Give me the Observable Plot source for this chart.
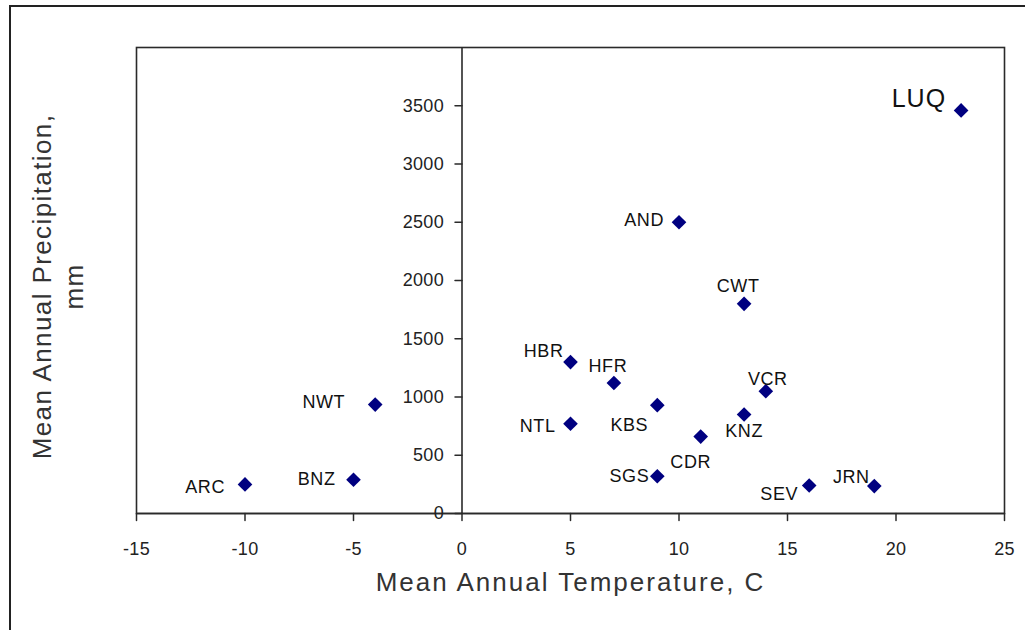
<!DOCTYPE html>
<html>
<head>
<meta charset="utf-8">
<script src="https://cdn.jsdelivr.net/npm/d3@7"></script>
<script src="https://cdn.jsdelivr.net/npm/@observablehq/plot@0.6"></script>
<style>
  html, body { margin: 0; padding: 0; background: #fff; }
  #wrap { position: relative; width: 1025px; height: 630px; overflow: hidden; }
  #outer { position: absolute; left: 9px; top: 5px; width: 1030px; height: 640px; border-left: 2px solid #222; border-top: 2px solid #222; box-sizing: border-box; }
  #chart { position: absolute; left: 0; top: 0; }
</style>
</head>
<body>
<div id="wrap"><div id="outer"></div><div id="chart"></div></div>
<script>
// ---- data ----
const sites  = ["ARC","BNZ","NWT","LUQ","AND","CWT","HBR","HFR","NTL","KBS","VCR","KNZ","CDR","SGS","SEV","JRN"];
const temperature   = [-10, -5, -4, 23, 10, 13, 5, 7, 5, 9, 14, 13, 11, 9, 16, 19];
const precipitation = [250, 290, 935, 3460, 2500, 1800, 1300, 1120, 770, 930, 1050, 850, 660, 320, 240, 235];
const xTicks = [-15, -10, -5, 0, 5, 10, 15, 20, 25];
const yTicks = [0, 500, 1000, 1500, 2000, 2500, 3000, 3500];
const xTitle = "Mean Annual Temperature, C";
const yTitle = "Mean Annual Precipitation,\nmm";

// label placement (layout only)
const labelPlacement = {
  ARC: {anchor: "end", dx: -20, dy: 3},
  BNZ: {anchor: "end", dx: -18, dy: 0},
  NWT: {anchor: "end", dx: -30, dy: -2},
  LUQ: {anchor: "end", dx: -15, dy: -11},
  AND: {anchor: "end", dx: -15, dy: -2},
  CWT: {anchor: "middle", dx: -6, dy: -18},
  HBR: {anchor: "end", dx: -7, dy: -11},
  HFR: {anchor: "middle", dx: -6, dy: -17},
  NTL: {anchor: "end", dx: -15, dy: 2},
  KBS: {anchor: "middle", dx: -28, dy: 20},
  VCR: {anchor: "middle", dx: 2, dy: -12},
  KNZ: {anchor: "middle", dx: 0, dy: 17},
  CDR: {anchor: "middle", dx: -10, dy: 26},
  SGS: {anchor: "end", dx: -8, dy: 0},
  SEV: {anchor: "middle", dx: -30, dy: 9},
  JRN: {anchor: "middle", dx: -23, dy: -9}
};

const table = sites.map((s, i) => ({site: s, t: temperature[i], p: precipitation[i]}));
const big = table.filter(d => d.site === "LUQ");
const small = table.filter(d => d.site !== "LUQ");

const tickShape = {draw(ctx, l) { ctx.moveTo(0, 0); ctx.lineTo(0, -l); }};
const font = "'Liberation Sans', Arial, sans-serif";

function spaced(ls) {
  return function(index, scales, values, dims, context, next) {
    const g = next(index, scales, values, dims, context);
    d3.select(g).selectAll("text").style("letter-spacing", ls + "px");
    return g;
  };
}

function labelMarks(data, size, ls) {
  return ["start", "middle", "end"].map(a => {
    const d = data.filter(r => labelPlacement[r.site].anchor === a);
    return Plot.text(d, {
      x: "t", y: "p", text: "site", textAnchor: a,
      fontSize: size, fill: "#111",
      render(index, scales, values, dims, context, next) {
        const g = next(index, scales, values, dims, context);
        d3.select(g).selectAll("text").each(function(_, j) {
          const r = d[index[j]];
          const p = labelPlacement[r.site];
          const el = d3.select(this);
          const tr = el.attr("transform") || "";
          el.attr("transform", tr + ` translate(${p.dx},${p.dy})`).style("letter-spacing", ls + "px");
        });
        return g;
      }
    });
  });
}

const chart = Plot.plot({
  width: 1025,
  height: 630,
  marginLeft: 136,
  marginRight: 21,
  marginTop: 47,
  marginBottom: 117,
  style: {fontFamily: font, background: "transparent", overflow: "visible"},
  x: {domain: [-15, 25], axis: null},
  y: {domain: [0, 4000], axis: null},
  marks: [
    Plot.frame({stroke: "#2a2a2a", strokeWidth: 1.6}),
    Plot.ruleX([0], {stroke: "#2a2a2a", strokeWidth: 1.6}),
    Plot.ruleY([0], {stroke: "#2a2a2a", strokeWidth: 1.6}),
    // y ticks on the x=0 axis
    Plot.vector(yTicks, {x: 0, y: d => d, rotate: -90, length: 7, anchor: "start", shape: tickShape, stroke: "#2a2a2a", strokeWidth: 1.5}),
    Plot.text(yTicks, {x: 0, y: d => d, text: d => String(d), textAnchor: "end", dx: -18, fontSize: 18, fill: "#222", render: spaced(0.3)}),
    // x ticks on the y=0 axis
    Plot.vector(xTicks, {x: d => d, y: 0, rotate: 180, length: 7, anchor: "start", shape: tickShape, stroke: "#2a2a2a", strokeWidth: 1.5}),
    Plot.text(xTicks, {x: d => d, y: 0, text: d => String(d), dy: 36, fontSize: 18, fill: "#222", render: spaced(0.3)}),
    // points
    Plot.dot(table, {x: "t", y: "p", symbol: "diamond2", r: 6.6, fill: "#000080", stroke: "none"}),
    // labels
    ...labelMarks(small, 18, 0.6),
    ...labelMarks(big, 25, 1),
    // axis titles
    Plot.text([xTitle], {frameAnchor: "bottom", dy: 77, fontSize: 26, fill: "#333", render: spaced(2)}),
    Plot.text([yTitle], {frameAnchor: "left", textAnchor: "middle", dx: -80, dy: 6, rotate: -90, fontSize: 26, lineHeight: 1.25, fill: "#333", render: spaced(1.4)})
  ]
});
document.getElementById("chart").appendChild(chart);
</script>
</body>
</html>
